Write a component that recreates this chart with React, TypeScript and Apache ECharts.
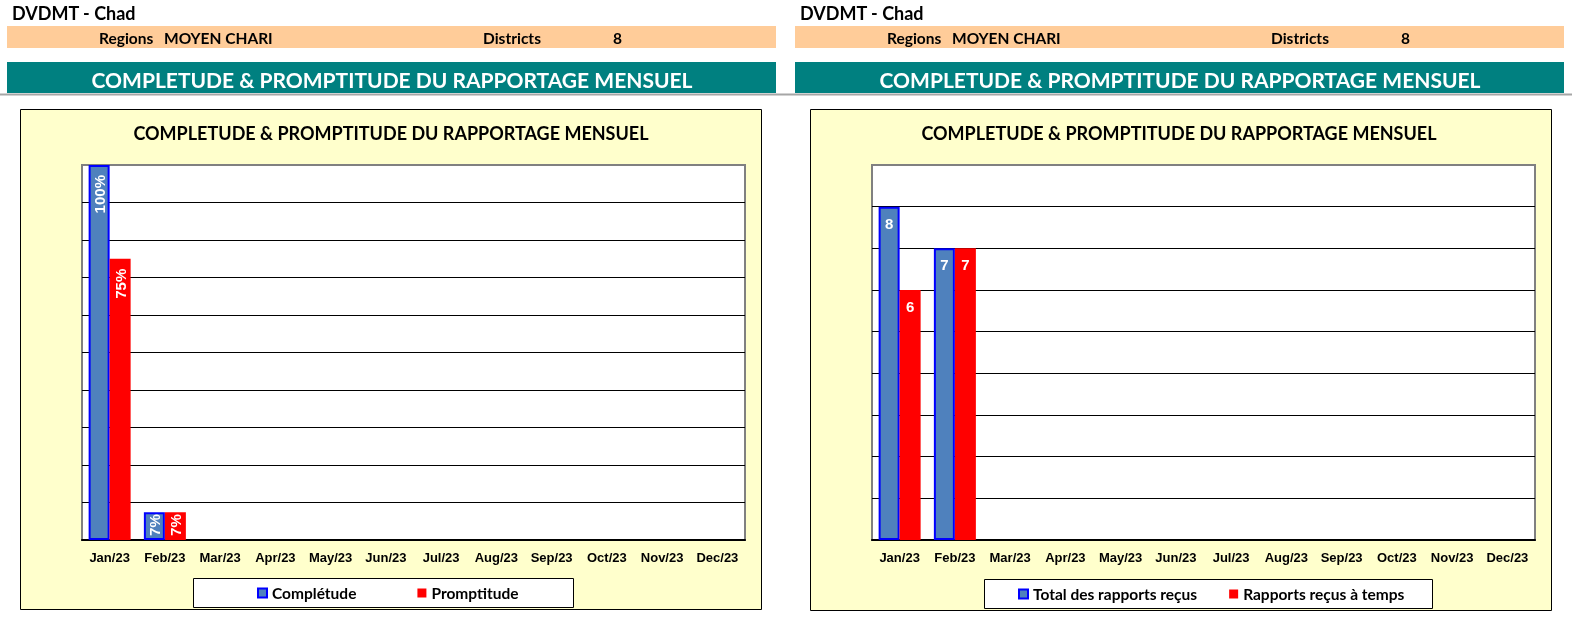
import React, { useEffect, useRef } from "react";
import * as echarts from "echarts";

const months = ["Jan/23", "Feb/23", "Mar/23", "Apr/23", "May/23", "Jun/23", "Jul/23", "Aug/23", "Sep/23", "Oct/23", "Nov/23", "Dec/23"];
const completude = [1.0, 0.074, null, null, null, null, null, null, null, null, null, null];
const promptitude = [0.75, 0.074, null, null, null, null, null, null, null, null, null, null];
const totalRecus = [8, 7, null, null, null, null, null, null, null, null, null, null];
const recusATemps = [6, 7, null, null, null, null, null, null, null, null, null, null];

const headerTitle = "DVDMT - Chad";
const regionLabel = "Regions";
const regionName = "MOYEN CHARI";
const districtsLabel = "Districts";
const districtsCount = "8";
const bandTitle = "COMPLETUDE & PROMPTITUDE DU RAPPORTAGE MENSUEL";
const chartTitle = "COMPLETUDE & PROMPTITUDE DU RAPPORTAGE MENSUEL";
const seriesNamesLeft = ["Complétude", "Promptitude"];
const seriesNamesRight = ["Total des rapports reçus", "Rapports reçus à temps"];

const BLUE = "#4F81BD";
const BLUE_BORDER = "#0000FF";
const RED = "#FF0000";
const PANEL = "#FFFFCC";
const PEACH = "#FFCC99";
const TEAL = "#008080";
const HEAD_FONT = "Lato";
const AX_FONT = "Liberation Sans";

function header(dx: number) {
  const els: any[] = [
    { type: "text", x: 12 + dx, y: 13, style: { text: headerTitle, fontFamily: HEAD_FONT, fontWeight: "bold", fontSize: 18, fill: "#000", verticalAlign: "middle" } },
    { type: "rect", shape: { x: 7 + dx, y: 26, width: 769, height: 22 }, style: { fill: PEACH }, z: -20 },
    { type: "text", x: 99 + dx, y: 38, style: { text: regionLabel, fontFamily: HEAD_FONT, fontWeight: "bold", fontSize: 15.5, fill: "#000", verticalAlign: "middle" } },
    { type: "text", x: 164 + dx, y: 38, style: { text: regionName, fontFamily: HEAD_FONT, fontWeight: "bold", fontSize: 15.5, fill: "#000", verticalAlign: "middle" } },
    { type: "text", x: 483 + dx, y: 38, style: { text: districtsLabel, fontFamily: HEAD_FONT, fontWeight: "bold", fontSize: 15.5, fill: "#000", verticalAlign: "middle" } },
    { type: "text", x: 613 + dx, y: 38, style: { text: districtsCount, fontFamily: HEAD_FONT, fontWeight: "bold", fontSize: 15.5, fill: "#000", verticalAlign: "middle" } },
    { type: "rect", shape: { x: 7 + dx, y: 62, width: 769, height: 31 }, style: { fill: TEAL }, z: -20 },
    { type: "text", x: 392 + dx, y: 79, style: { text: bandTitle, fontFamily: HEAD_FONT, fontWeight: "bold", fontSize: 21, fill: "#FFFFFF", align: "center", verticalAlign: "middle" } },
  ];
  return els;
}

export default function App() {
  const ref = useRef<HTMLDivElement>(null);
  useEffect(() => {
    if (!ref.current) return;
    document.body.style.margin = "0";
    const chart = echarts.init(ref.current, undefined, { renderer: "svg" });

    const blueItem = { color: BLUE, borderColor: BLUE_BORDER, borderWidth: 2 };
    const redItem = { color: RED };
    const pctLabel = {
      show: true,
      position: "insideTop",
      rotate: 90,
      align: "right",
      verticalAlign: "middle",
      distance: 10,
      color: "#FFFFFF",
      fontFamily: AX_FONT,
      fontWeight: "bold",
      fontSize: 15,
      formatter: (p: any) => (p.value == null ? "" : Math.round(p.value * 100) + "%"),
    };
    const pctData = (arr: (number | null)[]) =>
      arr.map((v) => (v != null && v < 0.2 ? { value: v, label: { distance: 2 } } : v));
    const numLabel = {
      show: true,
      position: "insideTop",
      distance: 9,
      color: "#FFFFFF",
      fontFamily: AX_FONT,
      fontWeight: "bold",
      fontSize: 15,
      formatter: (p: any) => (p.value == null ? "" : String(p.value)),
    };

    const xAxisBase = (gi: number) => ({
      type: "category",
      gridIndex: gi,
      data: months,
      axisLine: { show: true, lineStyle: { color: "#000", width: 2 } },
      axisTick: { show: false },
      axisLabel: { interval: 0, margin: 11, color: "#000", fontFamily: AX_FONT, fontWeight: "bold", fontSize: 13 },
    });
    const yAxisBase = (gi: number, max: number, interval: number) => ({
      type: "value",
      gridIndex: gi,
      min: 0,
      max,
      interval,
      axisLine: { show: false },
      axisTick: { show: false },
      axisLabel: { show: false },
      splitLine: { show: true, showMinLine: false, showMaxLine: false, lineStyle: { color: "#000", width: 1 } },
    });

    const legendText = { fontFamily: HEAD_FONT, fontWeight: "bold", fontSize: 15.5, color: "#000" };

    const option: any = {
      animation: false,
      graphic: [
        ...header(0),
        ...header(788),
        { type: "line", shape: { x1: 0, y1: 94.5, x2: 1572, y2: 94.5 }, style: { stroke: "#A6A6A6", lineWidth: 2 }, z: -20 },
        { type: "rect", shape: { x: 20.5, y: 109.5, width: 741, height: 500 }, style: { fill: PANEL, stroke: "#000", lineWidth: 1 }, z: -30 },
        { type: "rect", shape: { x: 810.5, y: 109.5, width: 741, height: 501 }, style: { fill: PANEL, stroke: "#000", lineWidth: 1 }, z: -30 },
        { type: "rect", shape: { x: 193.5, y: 578.5, width: 380, height: 29 }, style: { fill: "#FFFFFF", stroke: "#000", lineWidth: 1 }, z: -10 },
        { type: "rect", shape: { x: 984.5, y: 579.5, width: 448, height: 29 }, style: { fill: "#FFFFFF", stroke: "#000", lineWidth: 1 }, z: -10 },
      ],
      title: [
        { text: chartTitle, left: 391, top: 133, textAlign: "center", textVerticalAlign: "middle", padding: 0, textStyle: { fontFamily: HEAD_FONT, fontWeight: "bold", fontSize: 18, color: "#000" } },
        { text: chartTitle, left: 1179, top: 133, textAlign: "center", textVerticalAlign: "middle", padding: 0, textStyle: { fontFamily: HEAD_FONT, fontWeight: "bold", fontSize: 18, color: "#000" } },
      ],
      legend: [
        {
          data: [{ name: seriesNamesLeft[0], icon: "rect" }, { name: seriesNamesLeft[1], icon: "rect" }],
          left: 257, top: 585, itemWidth: 9, itemHeight: 9, itemGap: 61, padding: 0,
          textStyle: legendText,
          selectedMode: false,
        },
        {
          data: [{ name: seriesNamesRight[0], icon: "rect" }, { name: seriesNamesRight[1], icon: "rect" }],
          left: 1018, top: 586, itemWidth: 9, itemHeight: 9, itemGap: 32, padding: 0,
          textStyle: legendText,
          selectedMode: false,
        },
      ],
      grid: [
        { left: 82, top: 165, width: 663, height: 375, show: true, backgroundColor: "#FFFFFF", borderColor: "#808080", borderWidth: 2 },
        { left: 872, top: 165, width: 663, height: 375, show: true, backgroundColor: "#FFFFFF", borderColor: "#808080", borderWidth: 2 },
      ],
      xAxis: [xAxisBase(0), xAxisBase(1)],
      yAxis: [yAxisBase(0, 1, 0.1), yAxisBase(1, 9, 1)],
      series: [
        { name: seriesNamesLeft[0], type: "bar", xAxisIndex: 0, yAxisIndex: 0, data: pctData(completude), barWidth: 21, barGap: "0%", itemStyle: blueItem, label: pctLabel, emphasis: { disabled: true } },
        { name: seriesNamesLeft[1], type: "bar", xAxisIndex: 0, yAxisIndex: 0, data: pctData(promptitude), barWidth: 21, barGap: "0%", itemStyle: redItem, label: pctLabel, emphasis: { disabled: true } },
        { name: seriesNamesRight[0], type: "bar", xAxisIndex: 1, yAxisIndex: 1, data: totalRecus, barWidth: 21, barGap: "0%", itemStyle: blueItem, label: numLabel, emphasis: { disabled: true } },
        { name: seriesNamesRight[1], type: "bar", xAxisIndex: 1, yAxisIndex: 1, data: recusATemps, barWidth: 21, barGap: "0%", itemStyle: redItem, label: numLabel, emphasis: { disabled: true } },
      ],
    };
    chart.setOption(option);
    return () => chart.dispose();
  }, []);
  return <div ref={ref} style={{ position: "fixed", left: 0, top: 0, width: 1572, height: 627 }} />;
}
